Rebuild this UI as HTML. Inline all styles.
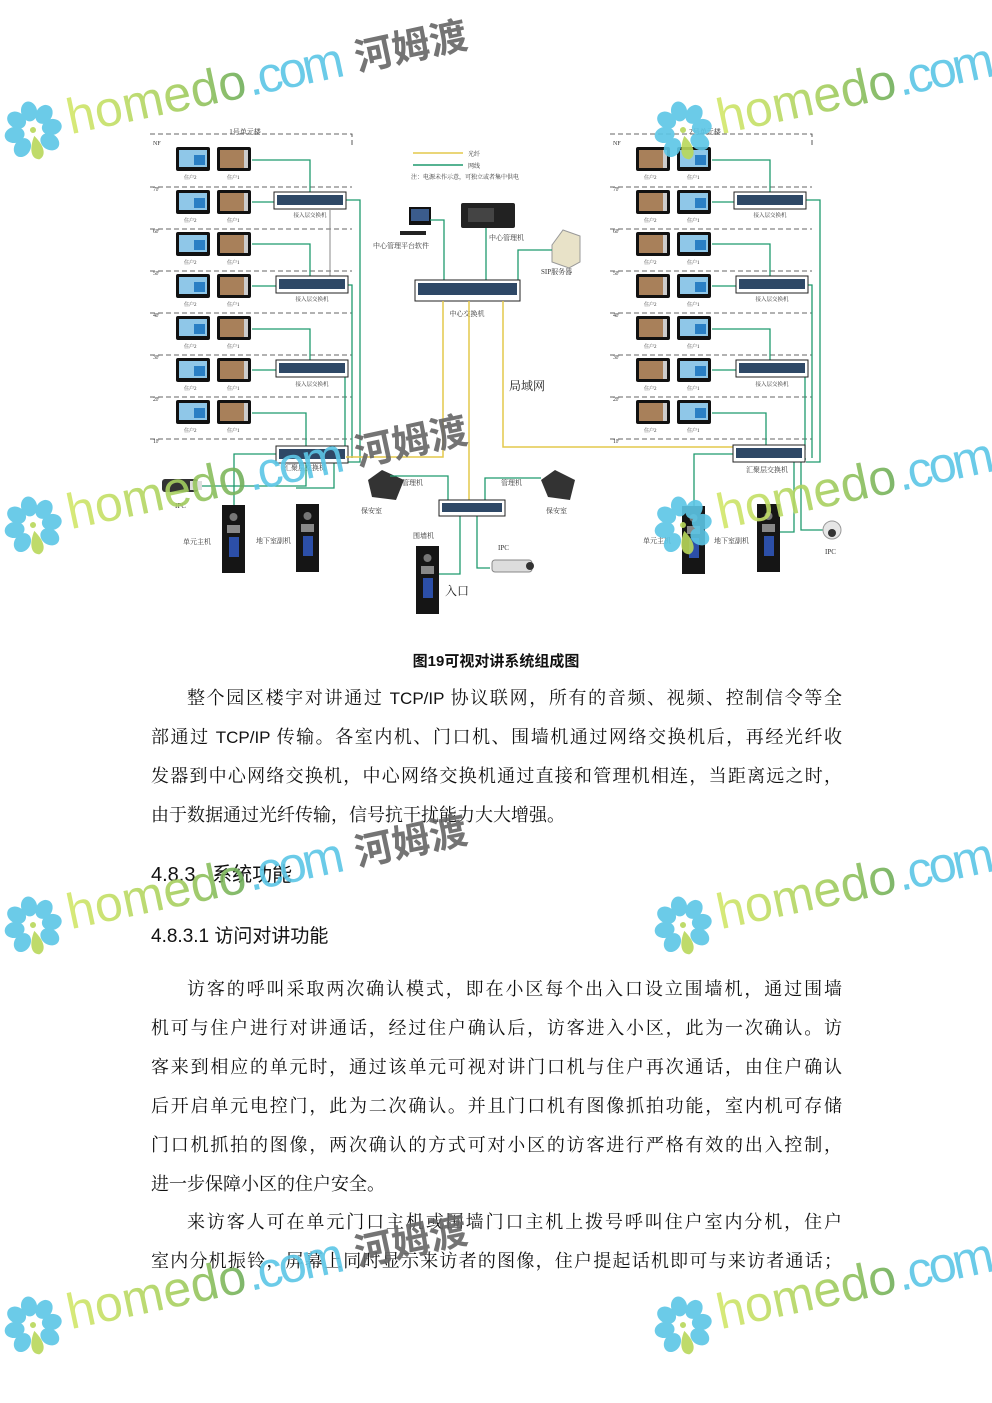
<!DOCTYPE html>
<html><head><meta charset="utf-8"><style>
html,body{margin:0;padding:0;background:#fff;}
body{width:992px;height:1403px;position:relative;overflow:hidden;font-family:"Liberation Serif","Noto Serif CJK SC",serif;color:#111;}
.l{position:absolute;left:151px;width:691px;font-size:18px;height:39px;line-height:39px;white-space:nowrap;}
.j{text-align:justify;text-align-last:justify;}
.s{font-family:"Liberation Sans",sans-serif;font-size:17px;}
.h{position:absolute;left:151px;font-family:"Liberation Sans","Noto Sans CJK SC",sans-serif;white-space:nowrap;}
svg{position:absolute;left:0;top:0;}
</style></head><body>
<svg width="992" height="640" viewBox="0 0 992 640" font-family="Liberation Serif,Noto Serif CJK SC,serif">
<defs>
<g id="pu"><rect width="34" height="24" rx="2" fill="#111"/><rect x="3" y="3" width="28" height="17" fill="#8fc7e8"/><rect x="18" y="8" width="11" height="10" fill="#2a7fc4"/></g>
<g id="pf"><rect width="34" height="24" rx="2" fill="#111"/><rect x="3" y="3" width="24" height="18" fill="#a8805a"/><rect x="27" y="3" width="4" height="18" fill="#ccc"/></g>
<g id="sw"><rect width="72" height="17" fill="#fff" stroke="#222"/><rect x="3" y="3" width="66" height="10" fill="#2e4866"/></g>
<g id="door"><rect width="23" height="68" fill="#151515"/><circle cx="11.5" cy="12" r="4" fill="#777"/><rect x="5" y="20" width="13" height="8" fill="#888"/><rect x="7" y="32" width="10" height="20" fill="#2c4fa8"/></g>
</defs>
<g fill="none" stroke="#333" stroke-dasharray="5,3" stroke-width="0.8">
<path d="M150 134 H352 V145"/><path d="M150 187H352M150 229H352M150 271H352M150 313H352M150 355H352M150 397H352M150 439H352"/>
</g>
<text x="245" y="134" font-size="7" fill="#333" text-anchor="middle">1号单元楼</text>
<g font-size="6" fill="#333"><text x="153" y="145">NF</text><text x="153" y="191">7F</text><text x="153" y="233">6F</text><text x="153" y="275">5F</text><text x="153" y="317">4F</text><text x="153" y="359">3F</text><text x="153" y="401">2F</text><text x="153" y="443">1F</text></g>
<g>
<use href="#pu" x="176" y="147"/><use href="#pf" x="217" y="147"/>
<use href="#pu" x="176" y="190"/><use href="#pf" x="217" y="190"/>
<use href="#pu" x="176" y="232"/><use href="#pf" x="217" y="232"/>
<use href="#pu" x="176" y="274"/><use href="#pf" x="217" y="274"/>
<use href="#pu" x="176" y="316"/><use href="#pf" x="217" y="316"/>
<use href="#pu" x="176" y="358"/><use href="#pf" x="217" y="358"/>
<use href="#pu" x="176" y="400"/><use href="#pf" x="217" y="400"/>
</g>
<g font-size="5" fill="#333"><text x="184" y="179">住户2</text><text x="227" y="179">住户1</text><text x="184" y="222">住户2</text><text x="227" y="222">住户1</text><text x="184" y="264">住户2</text><text x="227" y="264">住户1</text><text x="184" y="306">住户2</text><text x="227" y="306">住户1</text><text x="184" y="348">住户2</text><text x="227" y="348">住户1</text><text x="184" y="390">住户2</text><text x="227" y="390">住户1</text><text x="184" y="432">住户2</text><text x="227" y="432">住户1</text></g>
<path d="M330 210V276" stroke="#888" fill="none"/>
<g fill="none" stroke="#1f9a6e" stroke-width="1.3">
<path d="M252 160H310V193M252 202H274M252 244H310V277M252 286H276M252 329H310V361M252 370H276M252 413H306V447"/>
<path d="M346 200H360V462H346M346 285H352V458M346 368H345V450"/>
<path d="M276 454H234V508M346 459H334V488H296"/><path d="M306 462V486H172"/>
</g>
<use href="#sw" x="274" y="192"/><use href="#sw" x="276" y="276"/><use href="#sw" x="276" y="360"/><use href="#sw" x="276" y="446"/>
<g font-size="5.5" fill="#333" text-anchor="middle"><text x="310" y="217">接入层交换机</text><text x="312" y="301">接入层交换机</text><text x="312" y="386">接入层交换机</text><text x="305" y="470" font-size="7">汇聚层交换机</text></g>
<rect x="162" y="479" width="36" height="13" rx="3" fill="#333"/><rect x="190" y="481" width="12" height="9" fill="#ddd"/>
<text x="175" y="508" font-size="7" fill="#333">IPC</text>
<use href="#door" x="222" y="505"/><use href="#door" x="296" y="504"/>
<text x="183" y="544" font-size="7" fill="#333">单元主机</text><text x="256" y="543" font-size="7" fill="#333">地下室副机</text>
<path d="M413 153H463" stroke="#e4c84c" stroke-width="1.5"/><path d="M413 165H463" stroke="#1f9a6e" stroke-width="1.5"/>
<text x="468" y="156" font-size="6" fill="#333">光纤</text><text x="468" y="168" font-size="6" fill="#333">网线</text>
<text x="411" y="179" font-size="6" fill="#333">注：电源未作示意，可独立或者集中供电</text>
<rect x="409" y="207" width="22" height="18" fill="#111"/><rect x="411" y="209" width="18" height="12" fill="#3b5c8c"/><rect x="400" y="231" width="26" height="4" fill="#222"/>
<rect x="461" y="203" width="54" height="25" rx="2" fill="#222"/><rect x="468" y="208" width="26" height="14" fill="#444"/>
<path d="M552 245L563 230L580 236V262L569 268L552 262Z" fill="#e8e2c8" stroke="#999"/>
<text x="373" y="248" font-size="7" fill="#333">中心管理平台软件</text><text x="489" y="240" font-size="7" fill="#333">中心管理机</text><text x="541" y="274" font-size="7" fill="#333">SIP服务器</text>
<g fill="none" stroke="#1f9a6e" stroke-width="1.3"><path d="M430 220H444V281M486 228V281M518 281V250H552"/></g>
<rect x="415" y="280" width="105" height="21" fill="#fff" stroke="#222"/><rect x="418" y="283" width="99" height="12" fill="#2e4866"/>
<text x="467" y="316" font-size="7" fill="#333" text-anchor="middle">中心交换机</text>
<g fill="none" stroke="#e4c84c" stroke-width="1.5"><path d="M443 301V457H346M469 301V500M503 301V447H733"/></g>
<text x="509" y="390" font-size="12" fill="#222">局域网</text>
<path d="M368 480L382 470L404 480L396 500L372 497Z" fill="#333"/><path d="M541 480L555 470L575 480L570 500L548 497Z" fill="#333"/>
<text x="402" y="485" font-size="7" fill="#333">管理机</text><text x="501" y="485" font-size="7" fill="#333">管理机</text>
<text x="361" y="513" font-size="7" fill="#333">保安室</text><text x="546" y="513" font-size="7" fill="#333">保安室</text>
<g fill="none" stroke="#1f9a6e" stroke-width="1.3"><path d="M390 476H448V500M485 500V478H541M460 516V574H438M477 516V568H490"/></g>
<rect x="439" y="500" width="66" height="16" fill="#fff" stroke="#222"/><rect x="442" y="503" width="60" height="9" fill="#2e4866"/>
<text x="413" y="538" font-size="7" fill="#333">围墙机</text><use href="#door" x="416" y="546"/>
<text x="498" y="550" font-size="7" fill="#333">IPC</text>
<rect x="492" y="560" width="40" height="12" rx="3" fill="#ddd" stroke="#888"/><circle cx="530" cy="566" r="4" fill="#333"/>
<text x="445" y="595" font-size="12" fill="#222">入口</text>
<g fill="none" stroke="#333" stroke-dasharray="5,3" stroke-width="0.8">
<path d="M610 134 H812 V145"/><path d="M610 187H812M610 229H812M610 271H812M610 313H812M610 355H812M610 397H812M610 439H812"/>
</g>
<text x="705" y="134" font-size="7" fill="#333" text-anchor="middle">2号单元楼</text>
<g font-size="6" fill="#333"><text x="613" y="145">NF</text><text x="613" y="191">7F</text><text x="613" y="233">6F</text><text x="613" y="275">5F</text><text x="613" y="317">4F</text><text x="613" y="359">3F</text><text x="613" y="401">2F</text><text x="613" y="443">1F</text></g>
<g>
<use href="#pf" x="636" y="147"/><use href="#pu" x="677" y="147"/>
<use href="#pf" x="636" y="190"/><use href="#pu" x="677" y="190"/>
<use href="#pf" x="636" y="232"/><use href="#pu" x="677" y="232"/>
<use href="#pf" x="636" y="274"/><use href="#pu" x="677" y="274"/>
<use href="#pf" x="636" y="316"/><use href="#pu" x="677" y="316"/>
<use href="#pf" x="636" y="358"/><use href="#pu" x="677" y="358"/>
<use href="#pf" x="636" y="400"/><use href="#pu" x="677" y="400"/>
</g>
<g font-size="5" fill="#333"><text x="644" y="179">住户2</text><text x="687" y="179">住户1</text><text x="644" y="222">住户2</text><text x="687" y="222">住户1</text><text x="644" y="264">住户2</text><text x="687" y="264">住户1</text><text x="644" y="306">住户2</text><text x="687" y="306">住户1</text><text x="644" y="348">住户2</text><text x="687" y="348">住户1</text><text x="644" y="390">住户2</text><text x="687" y="390">住户1</text><text x="644" y="432">住户2</text><text x="687" y="432">住户1</text></g>
<g fill="none" stroke="#1f9a6e" stroke-width="1.3">
<path d="M712 160H770V193M712 202H734M712 244H770V277M712 286H736M712 329H770V361M712 370H736M712 413H766V447"/>
<path d="M806 200H820V462H806M806 285H812V458M806 368H805V450"/>
<path d="M736 454H694V508M806 459H794V532H780"/><path d="M801 462V530H830"/>
</g>
<use href="#sw" x="734" y="192"/><use href="#sw" x="736" y="276"/><use href="#sw" x="736" y="360"/><use href="#sw" x="733" y="445"/>
<g font-size="5.5" fill="#333" text-anchor="middle"><text x="770" y="217">接入层交换机</text><text x="772" y="301">接入层交换机</text><text x="772" y="386">接入层交换机</text><text x="767" y="472" font-size="7">汇聚层交换机</text></g>
<use href="#door" x="682" y="506"/><use href="#door" x="757" y="504"/>
<text x="643" y="543" font-size="7" fill="#333">单元主机</text><text x="714" y="543" font-size="7" fill="#333">地下室副机</text>
<circle cx="832" cy="530" r="9" fill="#e6e6e6" stroke="#999"/><circle cx="832" cy="533" r="4" fill="#333"/>
<text x="825" y="554" font-size="7" fill="#333">IPC</text>
</svg>

<div class="h" style="top:650px;left:0;width:992px;text-align:center;font-size:15px;font-weight:bold;">图19可视对讲系统组成图</div>
<div class="l j" style="top:679px;padding-left:36px;width:655px;">整个园区楼宇对讲通过 <span class="s">TCP/IP</span> 协议联网，所有的音频、视频、控制信令等全</div>
<div class="l j" style="top:718px;">部通过 <span class="s">TCP/IP</span> 传输。各室内机、门口机、围墙机通过网络交换机后，再经光纤收</div>
<div class="l j" style="top:757px;">发器到中心网络交换机，中心网络交换机通过直接和管理机相连，当距离远之时，</div>
<div class="l" style="top:796px;">由于数据通过光纤传输，信号抗干扰能力大大增强。</div>
<div class="h" style="top:858px;font-size:20px;">4.8.3&nbsp;&nbsp;&nbsp;系统功能</div>
<div class="h" style="top:921px;font-size:19px;">4.8.3.1 访问对讲功能</div>
<div class="l j" style="top:970px;padding-left:36px;width:655px;">访客的呼叫采取两次确认模式，即在小区每个出入口设立围墙机，通过围墙</div>
<div class="l j" style="top:1009px;">机可与住户进行对讲通话，经过住户确认后，访客进入小区，此为一次确认。访</div>
<div class="l j" style="top:1048px;">客来到相应的单元时，通过该单元可视对讲门口机与住户再次通话，由住户确认</div>
<div class="l j" style="top:1087px;">后开启单元电控门，此为二次确认。并且门口机有图像抓拍功能，室内机可存储</div>
<div class="l j" style="top:1126px;">门口机抓拍的图像，两次确认的方式可对小区的访客进行严格有效的出入控制，</div>
<div class="l" style="top:1165px;">进一步保障小区的住户安全。</div>
<div class="l j" style="top:1203px;padding-left:36px;width:655px;">来访客人可在单元门口主机或围墙门口主机上拨号呼叫住户室内分机，住户</div>
<div class="l j" style="top:1242px;">室内分机振铃，屏幕上同时显示来访者的图像，住户提起话机即可与来访者通话；</div>

<svg width="992" height="1403" viewBox="0 0 992 1403" style="opacity:0.9" font-family="Liberation Sans,Noto Sans CJK SC,sans-serif">
<defs>
<linearGradient id="gg" x1="0" x2="1"><stop offset="0" stop-color="#d4e86a"/><stop offset="0.6" stop-color="#a8d060"/><stop offset="1" stop-color="#6fae5c"/></linearGradient>
<g id="fl">
<g fill="#5cc6e6"><ellipse cx="0" cy="-19" rx="8" ry="10"/><ellipse cx="14" cy="-13" rx="8" ry="10" transform="rotate(45 14 -13)"/><ellipse cx="19" cy="1" rx="10" ry="8"/><ellipse cx="14" cy="15" rx="8" ry="10" transform="rotate(-45 14 15)"/><ellipse cx="-14" cy="-13" rx="8" ry="10" transform="rotate(-45 -14 -13)"/><ellipse cx="-19" cy="1" rx="10" ry="8"/><ellipse cx="-14" cy="15" rx="8" ry="10" transform="rotate(45 -14 15)"/></g>
<path d="M0 6 C-8 18 -8 28 0 30 C8 28 8 18 0 6Z" fill="#b9d85a"/><circle cx="0" cy="0" r="3" fill="#b9d85a"/>
</g>
</defs>
<g transform="translate(33,130) rotate(-12)"><use href="#fl"/><text x="36" y="12" font-size="50" fill="url(#gg)" textLength="182">homedo</text><text x="220" y="12" font-size="50" fill="#5cc6e6" textLength="98">.com</text><text x="330" y="10" font-size="38" font-weight="bold" fill="#666">河姆渡</text></g>
<g transform="translate(683,130) rotate(-12)"><use href="#fl"/><text x="36" y="12" font-size="50" fill="url(#gg)" textLength="182">homedo</text><text x="220" y="12" font-size="50" fill="#5cc6e6" textLength="98">.com</text></g>
<g transform="translate(33,525) rotate(-12)"><use href="#fl"/><text x="36" y="12" font-size="50" fill="url(#gg)" textLength="182">homedo</text><text x="220" y="12" font-size="50" fill="#5cc6e6" textLength="98">.com</text><text x="330" y="10" font-size="38" font-weight="bold" fill="#666">河姆渡</text></g>
<g transform="translate(683,525) rotate(-12)"><use href="#fl"/><text x="36" y="12" font-size="50" fill="url(#gg)" textLength="182">homedo</text><text x="220" y="12" font-size="50" fill="#5cc6e6" textLength="98">.com</text></g>
<g transform="translate(33,925) rotate(-12)"><use href="#fl"/><text x="36" y="12" font-size="50" fill="url(#gg)" textLength="182">homedo</text><text x="220" y="12" font-size="50" fill="#5cc6e6" textLength="98">.com</text><text x="330" y="10" font-size="38" font-weight="bold" fill="#666">河姆渡</text></g>
<g transform="translate(683,925) rotate(-12)"><use href="#fl"/><text x="36" y="12" font-size="50" fill="url(#gg)" textLength="182">homedo</text><text x="220" y="12" font-size="50" fill="#5cc6e6" textLength="98">.com</text></g>
<g transform="translate(33,1325) rotate(-12)"><use href="#fl"/><text x="36" y="12" font-size="50" fill="url(#gg)" textLength="182">homedo</text><text x="220" y="12" font-size="50" fill="#5cc6e6" textLength="98">.com</text><text x="330" y="10" font-size="38" font-weight="bold" fill="#666">河姆渡</text></g>
<g transform="translate(683,1325) rotate(-12)"><use href="#fl"/><text x="36" y="12" font-size="50" fill="url(#gg)" textLength="182">homedo</text><text x="220" y="12" font-size="50" fill="#5cc6e6" textLength="98">.com</text></g>
</svg>
</body></html>
